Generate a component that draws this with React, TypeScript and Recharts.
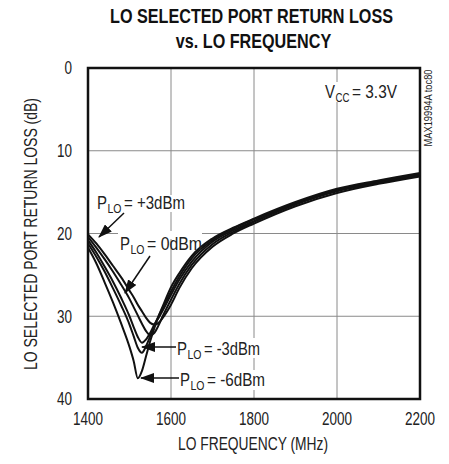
import { LineChart, Line, XAxis, YAxis, CartesianGrid, ReferenceArea } from "recharts";

const freq = [1400, 1420, 1440, 1460, 1480, 1500, 1510, 1520, 1530, 1540, 1550, 1560, 1570, 1580, 1600, 1620, 1650, 1700, 1750, 1800, 1900, 2000, 2100, 2200];

const pPlus3 = [20.1, 21.2, 22.5, 23.9, 25.3, 26.9, 27.7, 28.6, 29.4, 30.2, 30.8, 31.0, 30.8, 30.2, 28.6, 26.6, 24.2, 21.6, 20.0, 18.8, 16.7, 15.1, 14.0, 13.1];
const p0 = [20.4, 21.7, 23.1, 24.6, 26.2, 27.9, 28.9, 29.9, 30.9, 31.8, 32.3, 32.0, 31.1, 30.0, 28.0, 26.1, 23.8, 21.3, 19.8, 18.6, 16.5, 14.9, 13.9, 13.0];
const pMinus3 = [20.8, 22.3, 24.0, 25.8, 27.8, 30.0, 31.3, 32.5, 33.2, 32.8, 32.0, 31.0, 30.2, 29.3, 27.4, 25.6, 23.4, 21.0, 19.6, 18.5, 16.4, 14.8, 13.8, 12.9];
const pExtra = [21.2, 22.8, 24.6, 26.6, 28.7, 31.0, 32.4, 33.8, 34.4, 33.6, 32.4, 31.1, 30.0, 29.0, 27.0, 25.2, 23.0, 20.8, 19.4, 18.3, 16.3, 14.7, 13.7, 12.8];
const pMinus6 = [21.7, 23.6, 25.9, 28.3, 30.9, 33.7, 35.4, 37.5, 36.6, 34.8, 33.0, 31.4, 30.0, 28.8, 26.5, 24.8, 22.7, 20.6, 19.3, 18.2, 16.2, 14.6, 13.6, 12.7];

const xTicks = [1400, 1600, 1800, 2000, 2200];
const yTicks = [0, 10, 20, 30, 40];

const rows = freq.map((f, i) => ({
  freq: f,
  p3: pPlus3[i],
  p0: p0[i],
  pm3: pMinus3[i],
  px: pExtra[i],
  pm6: pMinus6[i],
}));

const FONT = "'Liberation Sans', Arial, sans-serif";
const INK = "#222";
const seriesKeys = ["p3", "p0", "pm3", "px", "pm6"];

// the original uses a condensed face, so text is squeezed to the measured widths
function XTick(props: any) {
  const { x, y, payload } = props;
  return (
    <text x={x} y={y} dy="0.71em" textAnchor="middle" fontSize={18} fill={INK} fontFamily={FONT}
      textLength={30} lengthAdjust="spacingAndGlyphs">
      {payload.value}
    </text>
  );
}

function YTick(props: any) {
  const { x, y, payload } = props;
  const s = String(payload.value);
  return (
    <text x={x} y={y} dy="0.355em" textAnchor="end" fontSize={18} fill={INK} fontFamily={FONT}
      textLength={7.5 * s.length} lengthAdjust="spacingAndGlyphs">
      {s}
    </text>
  );
}

// symbol with subscript, then the rest, as three separate texts
function SubLabel({ x, y, sym, sub, rest, w }: { x: number; y: number; sym: string; sub: string; rest: string; w: number }) {
  const symW = 10;
  const subW = 7 * sub.length;
  const restX = x + symW + subW + 3;
  return (
    <g fill={INK} fontFamily={FONT}>
      <text x={x} y={y} fontSize={18} textLength={symW} lengthAdjust="spacingAndGlyphs">{sym}</text>
      <text x={x + symW + 0.5} y={y + 4} fontSize={13} textLength={subW} lengthAdjust="spacingAndGlyphs">{sub}</text>
      <text x={restX} y={y} fontSize={18} textLength={x + w - restX} lengthAdjust="spacingAndGlyphs">{rest}</text>
    </g>
  );
}

export default function App() {
  return (
    <div style={{ position: "absolute", left: 0, top: 0, width: 449, height: 464, background: "#fff" }}>
      <LineChart width={449} height={464} data={rows} margin={{ top: 68, right: 29, bottom: 0, left: 0 }}>
        <CartesianGrid stroke="#8a8a8a" strokeWidth={1} />
        <XAxis
          dataKey="freq"
          type="number"
          domain={[1400, 2200]}
          ticks={xTicks}
          tickLine={false}
          axisLine={false}
          height={65}
          tickMargin={7}
          tick={XTick}
        />
        <YAxis
          type="number"
          domain={[0, 40]}
          ticks={yTicks}
          reversed
          width={88}
          tickLine={false}
          axisLine={false}
          tickMargin={10}
          tick={YTick}
        />
        <ReferenceArea x1={1400} x2={2200} y1={0} y2={40} fill="none" stroke="#111" strokeWidth={2.5} ifOverflow="visible" />
        {seriesKeys.map((k) => (
          <Line key={k} dataKey={k} type="monotone" stroke="#111" strokeWidth={2} dot={false} isAnimationActive={false} />
        ))}
      </LineChart>

      <svg width={449} height={464} style={{ position: "absolute", left: 0, top: 0, pointerEvents: "none" }}>
        <defs>
          <marker id="ah" markerUnits="userSpaceOnUse" markerWidth={14} markerHeight={10} refX={13} refY={5} orient="auto">
            <path d="M0,0 L14,5 L0,10 Z" fill="#111" />
          </marker>
        </defs>
        <g fontSize={21} fontWeight="bold" fill="#111" fontFamily={FONT} textAnchor="middle">
          <text transform="translate(251.5,23) scale(0.77,1)">LO SELECTED PORT RETURN LOSS</text>
          <text transform="translate(253.5,48) scale(0.77,1)">vs. LO FREQUENCY</text>
        </g>

        <text x={253} y={450} textAnchor="middle" fontSize={18} fill={INK} fontFamily={FONT}
          textLength={150} lengthAdjust="spacingAndGlyphs">
          LO FREQUENCY (MHz)
        </text>
        <text transform="translate(37,234) rotate(-90)" textAnchor="middle" fontSize={18} fill={INK} fontFamily={FONT}
          textLength={272} lengthAdjust="spacingAndGlyphs">
          LO SELECTED PORT RETURN LOSS (dB)
        </text>

        <rect x={323} y={82} width={76} height={20} fill="#fff" />
        <SubLabel x={325} y={98} sym="V" sub="CC" rest="= 3.3V" w={72} />
        <text transform="translate(432,108) rotate(-90)" textAnchor="middle" fontSize={10} fill={INK} fontFamily={FONT}
          textLength={77} lengthAdjust="spacingAndGlyphs">
          MAX19994A toc80
        </text>

        <rect x={165} y={195} width={12} height={17} fill="#fff" />
        <SubLabel x={97} y={209} sym="P" sub="LO" rest="= +3dBm" w={88} />
        <line x1={124} y1={213} x2={99} y2={237} stroke="#111" strokeWidth={1.5} markerEnd="url(#ah)" />

        <rect x={118} y={231} width={84} height={8} fill="#fff" />
        <SubLabel x={120} y={250} sym="P" sub="LO" rest="= 0dBm" w={82} />
        <line x1={150} y1={256} x2={125} y2={293} stroke="#111" strokeWidth={1.5} markerEnd="url(#ah)" />

        <rect x={248} y={338} width={14} height={20} fill="#fff" />
        <SubLabel x={177} y={355} sym="P" sub="LO" rest="= -3dBm" w={83} />
        <line x1={176} y1={347} x2={142} y2={347} stroke="#111" strokeWidth={1.5} markerEnd="url(#ah)" />

        <rect x={248} y={370} width={18} height={20} fill="#fff" />
        <SubLabel x={180} y={386} sym="P" sub="LO" rest="= -6dBm" w={85} />
        <line x1={179} y1={378} x2={141} y2={378} stroke="#111" strokeWidth={1.5} markerEnd="url(#ah)" />
      </svg>
    </div>
  );
}
